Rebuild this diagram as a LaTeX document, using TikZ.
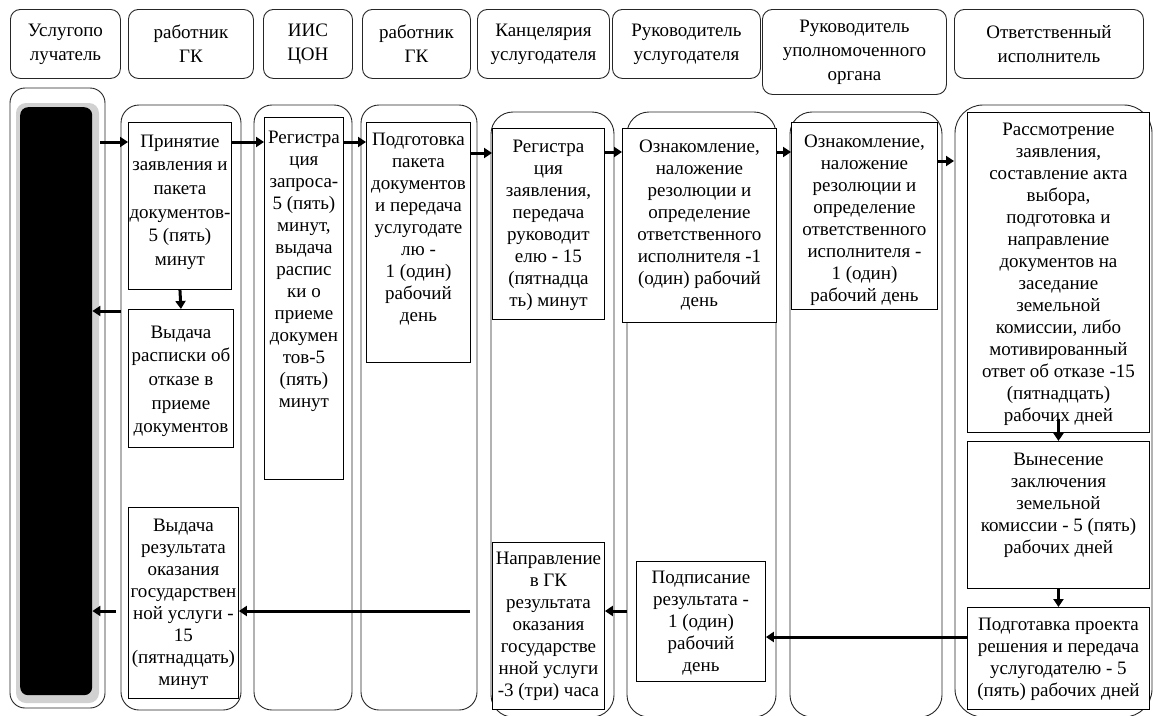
\documentclass[tikz,border=0pt]{standalone}
\usepackage{fontspec}
\setmainfont{Liberation Serif}
\usetikzlibrary{arrows.meta}
\newcommand\bfnt{\fontsize{19pt}{22pt}\selectfont}
\newcommand\bfntb{\fontsize{19pt}{23.7pt}\selectfont}
\newcommand\hfnt{\fontsize{19pt}{24pt}\selectfont}
\begin{document}
\begin{tikzpicture}[x=1pt,y=-1pt,
  hdr/.style={draw=black!85, line width=0.9pt, rounded corners=10pt, align=center, font=\hfnt, inner sep=0pt, anchor=north west},
  lane/.style={draw=black!85, line width=0.9pt},
  pbx/.style={draw=black, fill=white, line width=0.9pt, inner sep=0pt, anchor=north west},
  ptx/.style={align=center, font=\bfnt, inner sep=0pt, anchor=north},
  arr/.style={line width=3pt, -{Triangle[length=8pt,width=10pt]}},
]
\useasboundingbox (0,0) rectangle (1153,715);
\clip (0,0) rectangle (1153,715);

% headers
\node[hdr, minimum width=110pt, minimum height=69pt] (h1) at (10,9) {Услугопо\\лучатель};
\node[hdr, minimum width=125pt, minimum height=69pt] (h2) at (128,9) {работник\\ГК};
\node[hdr, minimum width=89pt, minimum height=69pt] (h3) at (263,9) {ИИС\\ЦОН};
\node[hdr, minimum width=108pt, minimum height=69pt] (h4) at (362,9) {работник\\ГК};
\node[hdr, minimum width=132pt, minimum height=69pt] (h5) at (477,9) {Канцелярия\\услугодателя};
\node[hdr, minimum width=148pt, minimum height=69pt] (h6) at (612,9) {Руководитель\\услугодателя};
\node[hdr, minimum width=184pt, minimum height=85pt] (h7) at (762,9) {Руководитель\\уполномоченного\\органа};
\node[hdr, minimum width=189pt, minimum height=69pt] (h8) at (954,9) {Ответственный\\исполнитель};

% lanes
\draw[lane, rounded corners=15pt] (10,88) rectangle (105,708);
\draw[lane, rounded corners=18pt] (121,105) rectangle (241,710);
\draw[lane, rounded corners=18pt] (254,105) rectangle (352,710);
\draw[lane, rounded corners=18pt] (361,105) rectangle (477,710);
\draw[lane, rounded corners=22pt] (491,112) rectangle (614,717);
\draw[lane, rounded corners=22pt] (627,112) rectangle (776,717);
\draw[lane, rounded corners=22pt] (790,112) rectangle (942,717);
\draw[lane, rounded corners=28pt] (955,105) rectangle (1152,717);

% black bar
\fill[black!18, rounded corners=10pt] (16,103) rectangle (99,703);
\node[fill=black, rounded corners=8pt, inner sep=0pt, minimum width=72pt, minimum height=588pt, anchor=north west] (bar) at (20,107) {};

% process boxes
\node[pbx, minimum width=103pt, minimum height=167pt] (B1) at (128,122) {};
\node[pbx, minimum width=105pt, minimum height=138pt] (B2) at (128,309) {};
\node[pbx, minimum width=79pt, minimum height=362pt] (B3) at (264,117) {};
\node[pbx, minimum width=104pt, minimum height=240pt] (B4) at (366,122) {};
\node[pbx, minimum width=112pt, minimum height=191pt] (B5) at (492,128) {};
\node[pbx, minimum width=154pt, minimum height=194pt] (B6) at (622,128) {};
\node[pbx, minimum width=146pt, minimum height=187pt] (B7) at (791,122) {};
\node[pbx, minimum width=182pt, minimum height=320pt] (B8) at (967,112) {};
\node[pbx, minimum width=182pt, minimum height=147pt] (B9) at (967,441) {};
\node[pbx, minimum width=182pt, minimum height=102pt] (B10) at (967,607) {};
\node[pbx, minimum width=112pt, minimum height=167pt] (B11) at (492,542) {};
\node[pbx, minimum width=129pt, minimum height=120pt] (B12) at (636,561) {};
\node[pbx, minimum width=110pt, minimum height=191pt] (B13) at (128,507) {};

% texts
\node[ptx, font=\bfntb] (B1t) at ([yshift=-8.4pt]B1.north) {\strut Принятие\\заявления и\\пакета\\документов-\\5 (пять)\\минут};
\node[ptx, font=\bfntb] (B2t) at ([yshift=-12.4pt]B2.north) {\strut Выдача\\расписки об\\отказе в\\приеме\\документов};
\node[ptx] (B3t) at ([yshift=-10.6pt]B3.north) {\strut Регистра\\ция\\запроса-\\5 (пять)\\минут,\\выдача\\распис\\ки о\\приеме\\докумен\\тов-5\\(пять)\\минут};
\node[ptx] (B4t) at ([yshift=-7.6pt]B4.north) {\strut Подготовка\\пакета\\документов\\и передача\\услугодате\\лю -\\1 (один)\\рабочий\\день};
\node[ptx] (B5t) at ([yshift=-8.6pt]B5.north) {\strut Регистра\\ция\\заявления,\\передача\\руководит\\елю - 15\\(пятнадца\\ть) минут};
\node[ptx] (B6t) at ([yshift=-8.6pt]B6.north) {\strut Ознакомление,\\наложение\\резолюции и\\определение\\ответственного\\исполнителя -1\\(один) рабочий\\день};
\node[ptx] (B7t) at ([yshift=-9.6pt]B7.north) {\strut Ознакомление,\\наложение\\резолюции и\\определение\\ответственного\\исполнителя -\\1 (один)\\рабочий день};
\node[ptx] (B8t) at ([yshift=-7.6pt]B8.north) {\strut Рассмотрение\\заявления,\\составление акта\\выбора,\\подготовка и\\направление\\документов на\\заседание\\земельной\\комиссии, либо\\мотивированный\\ответ об отказе -15\\(пятнадцать)\\рабочих дней};
\node[ptx] (B9t) at ([yshift=-8.6pt]B9.north) {\strut Вынесение\\заключения\\земельной\\комиссии - 5 (пять)\\рабочих дней};
\node[ptx] (B10t) at ([yshift=-7.6pt]B10.north) {\strut Подготавка проекта\\решения и передача\\услугодателю - 5\\(пять) рабочих дней};
\node[ptx] (B11t) at ([yshift=-6.6pt]B11.north) {\strut Направление\\в ГК\\результата\\оказания\\государстве\\нной услуги\\-3 (три) часа};
\node[ptx] (B12t) at ([yshift=-6.6pt]B12.north) {\strut Подписание\\результата -\\1 (один)\\рабочий\\день};
\node[ptx] (B13t) at ([yshift=-8.6pt]B13.north) {\strut Выдача\\результата\\оказания\\государствен\\ной услуги -\\15\\(пятнадцать)\\минут};

% arrows
\coordinate (c1) at (100,142);
\coordinate (y142) at (0,142);
\coordinate (y153) at (0,153);
\coordinate (y152) at (0,152);
\coordinate (y161) at (0,161);
\coordinate (y637) at (0,637);
\coordinate (c9) at (121,311);
\coordinate (c13) at (627,611);
\coordinate (c14) at (470,611);
\coordinate (c15) at (116,611);
\draw[arr] (c1) -- (c1 -| B1.west);
\draw[arr] (B1.east |- y142) -- (B3.west |- y142);
\draw[arr] (B3.east |- y142) -- (B4.west |- y142);
\draw[arr] (B4.east |- y153) -- (B5.west |- y153);
\draw[arr] (B5.east |- y152) -- (B6.west |- y152);
\draw[arr] (B6.east |- y152) -- (B7.west |- y152);
\draw[arr, shorten >=13pt] (B7.east |- y161) -- (B8.west |- y161);
\draw[arr] (B1.south) -- (B2.north);
\draw[arr] (c9) -- (c9 -| bar.east);
\draw[arr] ([yshift=14pt]B8.south) -- (B9.north);
\draw[arr] (B9.south) -- (B10.north);
\draw[arr] (B10.west |- y637) -- (B12.east |- y637);
\draw[arr] (c13) -- (c13 -| B11.east);
\draw[arr] (c14) -- (c14 -| B13.east);
\draw[arr] (c15) -- (c15 -| bar.east);
\end{tikzpicture}
\end{document}
